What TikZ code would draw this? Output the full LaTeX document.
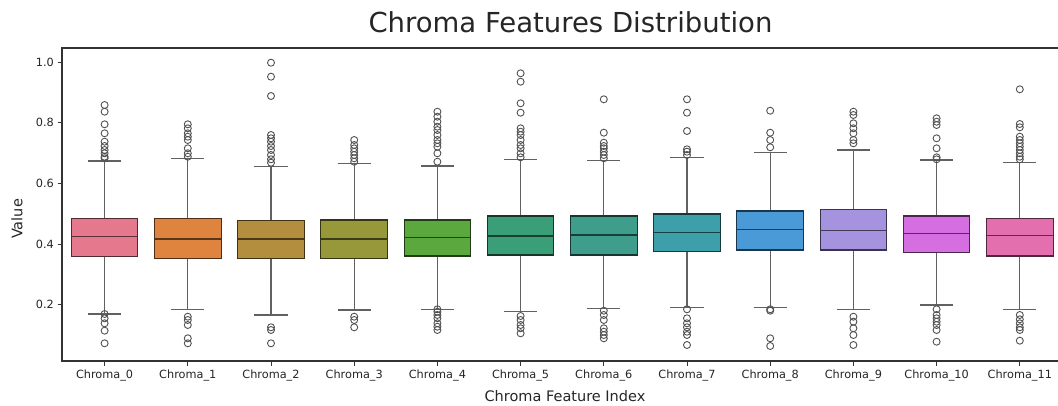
\documentclass[tikz,border=0pt]{standalone}
\usepackage{fontspec}
\setmainfont{DejaVu Sans}
\definecolor{c0}{HTML}{E5788C}
\definecolor{c1}{HTML}{DF843E}
\definecolor{c2}{HTML}{B48E3F}
\definecolor{c3}{HTML}{96983A}
\definecolor{c4}{HTML}{5AA83E}
\definecolor{c5}{HTML}{3A9E78}
\definecolor{c6}{HTML}{3E9E8B}
\definecolor{c7}{HTML}{3D9FAA}
\definecolor{c8}{HTML}{4A9AD8}
\definecolor{c9}{HTML}{A593E0}
\definecolor{c10}{HTML}{D56EE0}
\definecolor{c11}{HTML}{E36FAE}
\definecolor{axisgray}{HTML}{333333}
\definecolor{txt}{HTML}{262626}
\tikzset{
  frame/.style={draw=axisgray, line width=1.1pt},
  whisk/.style={draw=black!62, line width=1.2pt},
  flier/.style={draw=black!68, line width=0.9pt, fill=none},
  ticklab/.style={font=\fontsize{11.3}{13}\selectfont, text=txt, inner sep=0pt},
  axlab/.style={font=\fontsize{14.5}{16}\selectfont, text=txt, inner sep=0pt},
}
\begin{document}
\begin{tikzpicture}[x=1pt,y=-1pt]
\useasboundingbox (0,0) rectangle (1058,406);
\fill[white] (0,0) rectangle (1058,406);
% boxes
\foreach \i/\qt/\qb/\md/\wt/\wb/\tops/\bots in {
 0/218.3/256.7/236.7/161/314/{105,111.7,124.3,133.3,141.7,146,150,153.3,156.7,158.3}/{314,318.3,323.3,330.7,343.3},
 1/218.3/258.3/239/158.3/309.3/{124.3,128.3,133.3,136.7,140,148.3,153.3,156.7}/{316.7,320,325,338.3,343.3},
 2/220.7/258.3/239/166.3/315/{62.7,76.7,96,135,138.3,141.7,146,150,155,159.3,162.7}/{327.3,330,343.3},
 3/220/258.3/239/163.3/310/{140,145,148.3,151.7,155,158.3,161.7}/{316.7,320,327.3},
 4/220/256/237.3/166/309.3/{111.7,116.7,121.7,126.7,130,135,140,143.3,146.7,153.3,161.7}/{309.3,311.7,315,318.3,323.3,326.7,330},
 5/216/255/236/159.3/311.7/{73.3,81.7,103.3,112.7,128.3,131.7,135,140,145,148.3,153.3,157.3}/{316,320,325,328.3,333.3},
 6/216/255/235/160.7/308.3/{99.3,132.7,142.7,146,148.3,151.7,155,158.3}/{310.7,315,320,328.3,331.7,335,338.3},
 7/214/251.3/232.7/157.7/307.3/{99.3,112.7,131,149.3,151.7,155}/{309.3,318.3,323.3,327.3,331.7,335,345},
 8/211/250/229.3/152.7/307.3/{110.7,132.7,140,147.3}/{309.3,310.7,338.3,346},
 9/209.3/250/230.7/150/309.3/{111.7,115,123.3,128.3,133.3,140,143.3}/{316.7,321.7,328.3,335,345},
 10/216/252.7/233.3/160/305/{118.3,121.7,125,138.3,148.3,157.3,159.3}/{309.3,315,318.3,321.7,325,330,341.7},
 11/218.3/256/235.7/162.3/309.3/{89.3,124,127.3,136.7,140,143.3,146.7,150,153.3,156.7,159.3}/{315,319.3,323.3,327.3,330,340.7}}{
  \pgfmathsetmacro{\cx}{104.6+83.2*\i}
  \draw[whisk] (\cx,\qt) -- (\cx,\wt) (\cx-16.6,\wt) -- (\cx+16.6,\wt);
  \draw[whisk] (\cx,\qb) -- (\cx,\wb) (\cx-16.6,\wb) -- (\cx+16.6,\wb);
  \filldraw[fill=c\i, draw=c\i!35!black, line width=1.1pt] (\cx-33.3,\qt) rectangle (\cx+33.3,\qb);
  \draw[c\i!40!black, line width=1.2pt] (\cx-33.3,\md) -- (\cx+33.3,\md);
  \foreach \o in \tops { \draw[flier] (\cx,\o) circle[radius=3.5]; }
  \foreach \o in \bots { \draw[flier] (\cx,\o) circle[radius=3.5]; }
  \draw[axisgray, line width=0.8pt] (\cx,361) -- (\cx,365.5);
  \node[ticklab, anchor=north] (xl\i) at (\cx,369.5) {Chroma\_\i};
}
% frame
\draw[frame] (1062,48) -- (62,48) -- (62,361) -- (1062,361);
% y ticks
\foreach \v/\y in {1.0/62, 0.8/122.3, 0.6/183, 0.4/244, 0.2/304.7}{
  \draw[axisgray, line width=0.8pt] (57.5,\y) -- (62,\y);
  \node[ticklab, anchor=east] (yl\v) at (54,\y) {\v};
}
\node[axlab] (xlab) at (565,396) {Chroma Feature Index};
\node[axlab, rotate=90] (ylab) at (17,219) {Value};
\node[font=\fontsize{27.5}{30}\selectfont, text=txt, inner sep=0pt] (title) at (570.5,22) {Chroma Features Distribution};
\end{tikzpicture}
\end{document}
